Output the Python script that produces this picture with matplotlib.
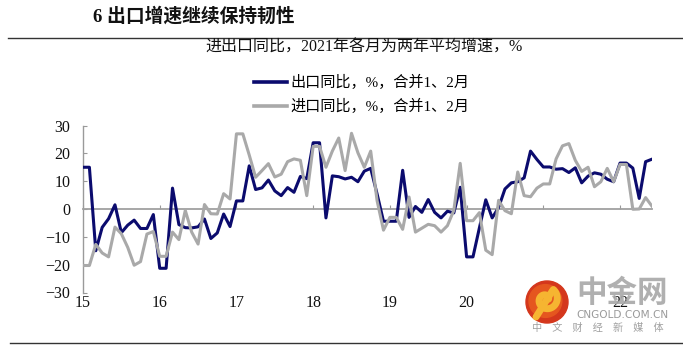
import numpy as np
import matplotlib
matplotlib.use("Agg")
import matplotlib.pyplot as plt
from matplotlib.lines import Line2D
from matplotlib.patches import Circle

plt.rcParams['font.family'] = ['Liberation Serif', 'Noto Sans CJK SC', 'DejaVu Sans']

# Monthly year-on-year growth (%), Jan 2015 - Jun 2022; Jan and Feb share one merged value
export_yoy = [
    15.0, 15.0, -15.0, -6.6, -3.5, 1.5, -8.5, -5.8, -4.0, -7.0, -7.0, -2.0,      # 2015
    -21.3, -21.3, 7.5, -5.6, -6.7, -6.8, -6.4, -3.6, -10.6, -8.6, -1.8, -6.3,   # 2016
    2.9, 2.9, 15.5, 7.0, 7.6, 10.4, 6.5, 4.8, 7.7, 6.0, 11.7, 10.9,             # 2017
    23.8, 23.8, -3.2, 11.9, 11.6, 10.8, 11.4, 9.8, 13.6, 14.6, 5.4, -4.4,       # 2018
    -4.4, -4.4, 13.9, -3.0, 0.9, -1.2, 3.4, -1.2, -3.2, -0.8, -1.4, 7.8,        # 2019
    -17.2, -17.2, -6.8, 3.3, -3.2, 0.5, 7.2, 9.4, 9.8, 11.2, 20.8, 17.8,        # 2020
    15.1, 15.1, 14.3, 14.5, 13.1, 14.8, 9.4, 11.8, 13.0, 12.5, 10.7, 9.8,       # 2021 (two-year avg)
    16.5, 16.5, 14.7, 3.8, 17.0, 17.9,                                          # 2022
]
import_yoy = [
    -20.3, -20.3, -12.7, -15.8, -17.2, -6.5, -8.9, -13.8, -20.2, -18.9, -9.0, -8.1,  # 2015
    -17.0, -17.0, -8.3, -11.0, -0.5, -8.3, -12.6, 1.6, -1.7, -1.8, 5.5, 3.6,         # 2016
    27.0, 27.0, 19.4, 11.4, 13.8, 16.3, 11.5, 12.5, 17.0, 18.0, 17.5, 4.8,           # 2017
    22.5, 22.5, 15.0, 20.8, 25.5, 13.8, 27.2, 20.2, 15.0, 20.8, 3.0, -7.6,           # 2018
    -3.0, -3.0, -7.3, 4.3, -8.3, -6.9, -5.5, -6.0, -8.3, -6.0, -0.5, 16.4,           # 2019
    -4.2, -4.2, -1.3, -14.8, -16.4, 3.1, -0.6, -1.7, 13.3, 4.8, 4.4, 7.5,            # 2020
    9.0, 9.0, 18.0, 22.7, 23.5, 17.5, 13.5, 15.0, 8.0, 9.8, 14.6, 9.8,               # 2021 (two-year avg)
    16.0, 16.0, -0.1, 0.0, 4.1, 1.0,                                                 # 2022
]
year_labels = ["15", "16", "17", "18", "19", "20", "21", "22"]
series_labels = ["出口同比，%，合并1、2月", "进口同比，%，合并1、2月"]

W, H = 683, 347
fig = plt.figure(figsize=(W / 100, H / 100), dpi=100)

def fx(px):
    return px / W

def fy(py):
    return 1 - py / H

ax = fig.add_axes([fx(83), fy(292.5), (652 - 83) / W, (292.5 - 125.5) / H])

months = np.arange(len(export_yoy))
navy = "#0b0b6e"
grey = "#a9a9a9"
ax.plot(months, export_yoy, color=navy, lw=2.2, zorder=3)
ax.plot(np.arange(len(import_yoy)), import_yoy, color=grey, lw=2.2, zorder=4)

ax.set_xlim(0, len(export_yoy) - 1)
ax.set_ylim(-30, 30)
ax.set_yticks(np.arange(-30, 31, 10))
ax.set_xticks(np.arange(len(year_labels)) * 12)
ax.set_xticklabels(year_labels)

for s in ("top", "right"):
    ax.spines[s].set_visible(False)
ax.spines["bottom"].set_position(("data", 0))
ax.spines["bottom"].set_color("#a0a0a0")
ax.spines["bottom"].set_linewidth(1.3)
ax.spines["left"].set_color("#9a9a9a")
ax.spines["left"].set_linewidth(1.0)
ax.tick_params(axis="x", direction="in", length=3, color="#9a9a9a", pad=62,
               labelsize=11.5, labelcolor="#111111")
ax.tick_params(axis="y", direction="in", length=3, color="#9a9a9a", pad=9,
               labelsize=11.5, labelcolor="#111111")

# Heading and rules
fig.text(fx(93), fy(16), "6 出口增速继续保持韧性", fontsize=13.5, fontweight="bold",
         ha="left", va="center", color="#111111")
fig.add_artist(Line2D([fx(8), 1], [fy(37.5), fy(37.5)], color="#333333", lw=1.0))
fig.add_artist(Line2D([fx(10), 1], [fy(343), fy(343)], color="#333333", lw=1.0))

fig.text(fx(364), fy(48), "进出口同比，2021年各月为两年平均增速，%", fontsize=11.5,
         ha="center", va="center", color="#111111")

handles = [Line2D([], [], color=navy, lw=2.6), Line2D([], [], color=grey, lw=2.6)]
fig.legend(handles, series_labels, loc="center left",
           bbox_to_anchor=(fx(254), fy(94.5)), frameon=False, fontsize=10.9,
           handlelength=2.2, handletextpad=0.2, labelspacing=0.55,
           borderpad=0, borderaxespad=0)

# Watermark logo
lg = fig.add_axes([fx(547 - 22), fy(302 + 22), 44 / W, 44 / H])
lg.set_xlim(-1.1, 1.1)
lg.set_ylim(-1.1, 1.1)
lg.set_aspect("equal")
lg.axis("off")
lg.add_patch(Circle((0, 0), 1.05, color="#d4371c"))
lg.add_patch(Circle((-0.08, 0.05), 0.82, color="#e5561f"))
t = np.linspace(0.2, 2.3 * np.pi, 200)
r = 0.12 + 0.07 * t
lg.plot(-0.05 + r * np.cos(t), 0.12 + r * np.sin(t), color="#f6b531", lw=5,
        solid_capstyle="round")
lg.plot([-0.05 + 0.55 * np.cos(2.3 * np.pi), -0.55], [0.12 + 0.55 * np.sin(2.3 * np.pi), -0.75],
        color="#f6b531", lw=5, solid_capstyle="round")

fig.text(fx(622), fy(293), "中金网", fontsize=22, fontweight="bold", color="#a8a8a8",
         ha="center", va="center", alpha=0.9, family=["Noto Sans CJK SC"])
fig.text(fx(622), fy(315), "CNGOLD.COM.CN", fontsize=7.6, color="#9a9a9a",
         ha="center", va="center", family=["DejaVu Sans"])
fig.text(fx(598), fy(328), "中　文　财　经　新　媒　体", fontsize=7.3, color="#a0a0a0",
         ha="center", va="center", family=["Noto Sans CJK SC"])

fig.savefig("out.png", dpi=100)
